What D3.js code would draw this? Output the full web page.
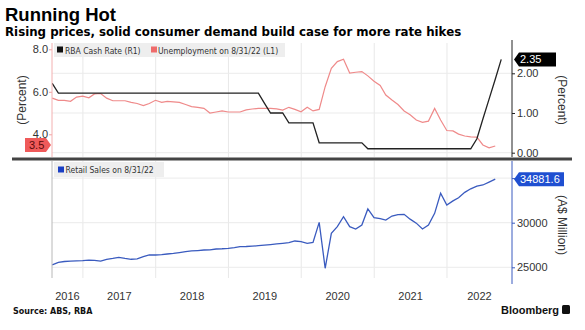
<!DOCTYPE html>
<html>
<head>
<meta charset="utf-8">
<script src="https://cdn.jsdelivr.net/npm/d3@7"></script>
<style>
  body { margin: 0; background: #fff; }
  svg { display: block; }
</style>
</head>
<body>
<svg id="chart"></svg>
<script>
// Monthly data, first point is July 2016, each value sits at its month end
const firstMonth = [2016, 6];

// RBA cash rate (%), Jul 2016 .. Sep 2022
const cashRate = [
  1.75, 1.50, 1.50, 1.50, 1.50, 1.50,
  1.50, 1.50, 1.50, 1.50, 1.50, 1.50, 1.50, 1.50, 1.50, 1.50, 1.50, 1.50,
  1.50, 1.50, 1.50, 1.50, 1.50, 1.50, 1.50, 1.50, 1.50, 1.50, 1.50, 1.50,
  1.50, 1.50, 1.50, 1.50, 1.50, 1.25, 1.00, 1.00, 1.00, 0.75, 0.75, 0.75,
  0.75, 0.75, 0.25, 0.25, 0.25, 0.25, 0.25, 0.25, 0.25, 0.25, 0.10, 0.10,
  0.10, 0.10, 0.10, 0.10, 0.10, 0.10, 0.10, 0.10, 0.10, 0.10, 0.10, 0.10,
  0.10, 0.10, 0.10, 0.10, 0.35, 0.85, 1.35, 1.85, 2.35
];

// Unemployment rate (%), Jul 2016 .. Aug 2022
const unemployment = [
  5.70, 5.60, 5.60, 5.55, 5.75, 5.80,
  5.72, 5.90, 5.92, 5.70, 5.58, 5.58, 5.58, 5.50, 5.45, 5.35, 5.45, 5.60,
  5.50, 5.55, 5.53, 5.50, 5.40, 5.30, 5.27, 5.22, 5.00, 5.05, 5.10, 5.05,
  5.05, 5.05, 5.15, 5.19, 5.22, 5.22, 5.22, 5.20, 5.14, 5.27, 5.17, 5.06,
  5.27, 5.10, 5.17, 6.24, 7.10, 7.42, 7.53, 6.88, 6.92, 6.95, 6.75, 6.50,
  6.30, 5.85, 5.61, 5.40, 5.10, 4.92, 4.67, 4.56, 4.62, 5.22, 4.67, 4.18,
  4.16, 4.01, 3.92, 3.88, 3.87, 3.50, 3.36, 3.45
];

// Retail sales (A$ million), Jul 2016 .. Aug 2022
const retailSales = [
  25260, 25550, 25650, 25700, 25720, 25740,
  25800, 25780, 25700, 25900, 26000, 26120, 26000, 25900, 25950, 26200, 26380, 26380,
  26420, 26490, 26560, 26650, 26750, 26830, 26880, 26940, 26950, 27050, 27080, 27130,
  27200, 27310, 27330, 27370, 27420, 27480, 27550, 27620, 27690, 27760, 27950, 27880,
  27690, 27800, 30040, 24890, 28810, 29550, 30670, 29550, 29290, 29740, 31540, 30560,
  30450, 30300, 30750, 30900, 30940, 30400, 29950, 29290, 29740, 31050, 33300, 31980,
  32450, 32800, 33400, 33800, 34100, 34230, 34550, 34881.6
];

// Tick values
const yearLabels = [2016, 2017, 2018, 2019, 2020, 2021, 2022];
const leftTicks = [4, 6, 8];
const rightTopTicks = [0, 1, 2];
const rightBottomTicks = [25000, 30000, 35000];

const width = 585, height = 330;
const left = 52, right = 512;
const topPanel = { y0: 43, y1: 157 };
const botPanel = { y0: 161, y1: 278 };

const svg = d3.select('#chart').attr('width', width).attr('height', height);

// month end date for index i
function monthEnd(i) {
  return new Date(firstMonth[0], firstMonth[1] + i + 1, 0);
}

const xScale = d3.scaleTime()
  .domain([new Date(2016, 6, 30), new Date(2022, 10, 23)])
  .range([left, right]);

const yLeft = d3.scaleLinear().domain([4, 8]).range([134.3, 49.3]);
const yRight = d3.scaleLinear().domain([0, 2]).range([152.7, 73.3]);
const yRetail = d3.scaleLinear().domain([25000, 30000]).range([267.3, 222.7]);

const tickFont = 'Liberation Sans, Arial, sans-serif';
const legendFont = 'DejaVu Sans Condensed, DejaVu Sans, sans-serif';
const titleFont = 'Liberation Sans, Arial, sans-serif';

// Title
svg.append('text').attr('x', 5).attr('y', 21)
  .style('font-family', titleFont).style('font-weight', 'bold')
  .style('font-size', '18.5px').style('fill', '#000').text('Running Hot');
svg.append('text').attr('x', 5).attr('y', 36)
  .style('font-family', 'DejaVu Sans, sans-serif').style('font-weight', 'bold')
  .style('font-size', '11.8px').style('fill', '#000')
  .text('Rising prices, solid consumer demand build case for more rate hikes');

// Gridlines
const yearStarts = yearLabels.slice(1).map(y => new Date(y, 0, 1));
[topPanel, botPanel].forEach(p => {
  svg.append('g').selectAll('line').data(yearStarts).enter().append('line')
    .attr('x1', d => xScale(d)).attr('x2', d => xScale(d))
    .attr('y1', p.y0).attr('y2', p.y1)
    .attr('stroke', '#e8e8e8').attr('stroke-width', 1);
});
svg.append('g').selectAll('line').data(rightTopTicks).enter().append('line')
  .attr('x1', left).attr('x2', right)
  .attr('y1', d => yRight(d)).attr('y2', d => yRight(d))
  .attr('stroke', '#ebebeb');
svg.append('g').selectAll('line').data(rightBottomTicks).enter().append('line')
  .attr('x1', left).attr('x2', right)
  .attr('y1', d => yRetail(d)).attr('y2', d => yRetail(d))
  .attr('stroke', '#ebebeb');

// Clip paths for each panel
const defs = svg.append('defs');
defs.append('clipPath').attr('id', 'clipTop').append('rect')
  .attr('x', left).attr('y', topPanel.y0).attr('width', right - left).attr('height', topPanel.y1 - topPanel.y0);
defs.append('clipPath').attr('id', 'clipBot').append('rect')
  .attr('x', left).attr('y', botPanel.y0).attr('width', right - left).attr('height', botPanel.y1 - botPanel.y0);

// Lines
const unempLine = d3.line().x((d, i) => xScale(monthEnd(i))).y(d => yLeft(d));
const cashLine = d3.line().x((d, i) => xScale(monthEnd(i))).y(d => yRight(d));
const retailLine = d3.line().x((d, i) => xScale(monthEnd(i))).y(d => yRetail(d));

svg.append('path').datum(unemployment)
  .attr('clip-path', 'url(#clipTop)')
  .attr('d', unempLine).attr('fill', 'none')
  .attr('stroke', '#ef8a8a').attr('stroke-width', 1.2);
svg.append('path').datum(cashRate)
  .attr('clip-path', 'url(#clipTop)')
  .attr('d', cashLine).attr('fill', 'none')
  .attr('stroke', '#222').attr('stroke-width', 1.3);
svg.append('path').datum(retailSales)
  .attr('clip-path', 'url(#clipBot)')
  .attr('d', retailLine).attr('fill', 'none')
  .attr('stroke', '#3a5bbf').attr('stroke-width', 1.3);

// Legends
const lg1 = svg.append('g');
lg1.append('rect').attr('x', 54).attr('y', 43).attr('width', 231).attr('height', 14).attr('fill', '#eeeeee');
lg1.append('rect').attr('x', 57).attr('y', 46.5).attr('width', 6).attr('height', 6).attr('fill', '#111');
lg1.append('text').attr('x', 65).attr('y', 53.5).style('font-family', legendFont).style('font-size', '8.5px')
  .style('fill', '#333').text('RBA Cash Rate (R1)');
lg1.append('rect').attr('x', 151).attr('y', 46.5).attr('width', 6).attr('height', 6).attr('fill', '#ef6b6b');
lg1.append('text').attr('x', 158).attr('y', 53.5).style('font-family', legendFont).style('font-size', '8.5px')
  .style('fill', '#333').text('Unemployment on 8/31/22 (L1)');

const lg2 = svg.append('g');
lg2.append('rect').attr('x', 54).attr('y', 162).attr('width', 110).attr('height', 15).attr('fill', '#eeeeee');
lg2.append('rect').attr('x', 58).attr('y', 166.5).attr('width', 6).attr('height', 6).attr('fill', '#1a3fc4');
lg2.append('text').attr('x', 65.5).attr('y', 173).style('font-family', legendFont).style('font-size', '8.5px')
  .style('fill', '#333').text('Retail Sales on 8/31/22');

// Axes
const leftAxis = d3.axisLeft(yLeft).tickValues(leftTicks).tickFormat(d3.format('.1f')).tickSize(3).tickPadding(1);
const gL = svg.append('g').attr('transform', `translate(${left},0)`).call(leftAxis);
gL.select('.domain').remove();
gL.selectAll('line').attr('stroke', '#f2a0a0');
gL.selectAll('text').style('font-family', tickFont).style('font-size', '11px').style('fill', '#333');
svg.append('line').attr('x1', left).attr('x2', left).attr('y1', topPanel.y0).attr('y2', topPanel.y1)
  .attr('stroke', '#f3b0b0').attr('stroke-width', 1);
svg.append('line').attr('x1', left).attr('x2', left).attr('y1', botPanel.y0).attr('y2', botPanel.y1)
  .attr('stroke', '#b8b8b8').attr('stroke-width', 1);

const rightAxisTop = d3.axisRight(yRight).tickValues(rightTopTicks).tickFormat(d3.format('.2f')).tickSize(3).tickPadding(2);
const gR1 = svg.append('g').attr('transform', `translate(${right},0)`).call(rightAxisTop);
gR1.select('.domain').remove();
gR1.selectAll('line').attr('stroke', '#222');
gR1.selectAll('text').style('font-family', tickFont).style('font-size', '11px').style('fill', '#333');
svg.append('line').attr('x1', right).attr('x2', right).attr('y1', 40).attr('y2', topPanel.y1)
  .attr('stroke', '#222').attr('stroke-width', 1);

const rightAxisBot = d3.axisRight(yRetail).tickValues(rightBottomTicks).tickFormat(d => d === 35000 ? '' : d3.format('d')(d)).tickSize(3).tickPadding(2);
const gR2 = svg.append('g').attr('transform', `translate(${right},0)`).call(rightAxisBot);
gR2.select('.domain').remove();
gR2.selectAll('line').attr('stroke', '#3a5bbf');
gR2.selectAll('text').style('font-family', tickFont).style('font-size', '11px').style('fill', '#333');
svg.append('line').attr('x1', right).attr('x2', right).attr('y1', botPanel.y0).attr('y2', 284)
  .attr('stroke', '#3a5bbf').attr('stroke-width', 1);

// Separator between panels
svg.append('line').attr('x1', 12).attr('x2', 572).attr('y1', 159).attr('y2', 159)
  .attr('stroke', '#444').attr('stroke-width', 3);

// Year labels, centred in the visible part of each year
const [d0, d1] = xScale.domain();
svg.append('g').selectAll('text').data(yearLabels).enter().append('text')
  .attr('x', d => {
    const a = Math.max(+new Date(d, 0, 1), +d0);
    const b = Math.min(+new Date(d + 1, 0, 1), +d1);
    return (xScale(new Date(a)) + xScale(new Date(b))) / 2;
  })
  .attr('y', 300).attr('text-anchor', 'middle')
  .style('font-family', tickFont).style('font-size', '11px').style('fill', '#333')
  .text(d => d);

// Axis titles
svg.append('text').attr('transform', 'translate(25.5,100) rotate(-90)').attr('text-anchor', 'middle')
  .style('font-family', tickFont).style('font-size', '12px').style('fill', '#333').text('(Percent)');
svg.append('text').attr('transform', 'translate(558,100) rotate(90)').attr('text-anchor', 'middle')
  .style('font-family', tickFont).style('font-size', '12px').style('fill', '#333').text('(Percent)');
svg.append('text').attr('transform', 'translate(558,225) rotate(90)').attr('text-anchor', 'middle')
  .style('font-family', tickFont).style('font-size', '12px').style('fill', '#333').text('(A$ Million)');

// Last value tags
function rightTag(yv, label, color, w) {
  const g = svg.append('g').attr('transform', `translate(${right + 2},${yv})`);
  g.append('path').attr('d', `M0,0 L5,-7 L${w},-7 L${w},7 L5,7 Z`).attr('fill', color);
  g.append('text').attr('x', 6).attr('y', 4).style('font-family', tickFont).style('font-size', '11px')
    .style('fill', '#fff').text(label);
}
rightTag(yRight(cashRate[cashRate.length - 1]), d3.format('.2f')(cashRate[cashRate.length - 1]), '#000', 42);
rightTag(yRetail(retailSales[retailSales.length - 1]), d3.format('.1f')(retailSales[retailSales.length - 1]), '#1f4fd1', 50);

const tagL = svg.append('g').attr('transform', `translate(${left - 1},${yLeft(3.5)})`);
tagL.append('path').attr('d', 'M0,0 L-5,-7 L-26,-7 L-26,7 L-5,7 Z').attr('fill', '#ef5a5a');
tagL.append('text').attr('x', -22).attr('y', 4).style('font-family', tickFont).style('font-size', '11px')
  .style('fill', '#5a0a0a').text(d3.format('.1f')(3.5));

// Footer
svg.append('text').attr('x', 13).attr('y', 314)
  .style('font-family', 'DejaVu Sans, sans-serif').style('font-weight', 'bold').style('font-size', '8px')
  .style('fill', '#111').text('Source: ABS, RBA');
svg.append('text').attr('x', 559).attr('y', 314).attr('text-anchor', 'end')
  .style('font-family', tickFont).style('font-weight', 'bold').style('font-size', '11px')
  .style('fill', '#111').text('Bloomberg');
svg.append('rect').attr('x', 562).attr('y', 305).attr('width', 8).attr('height', 9).attr('rx', 1.5).attr('fill', '#111');
</script>
</body>
</html>
